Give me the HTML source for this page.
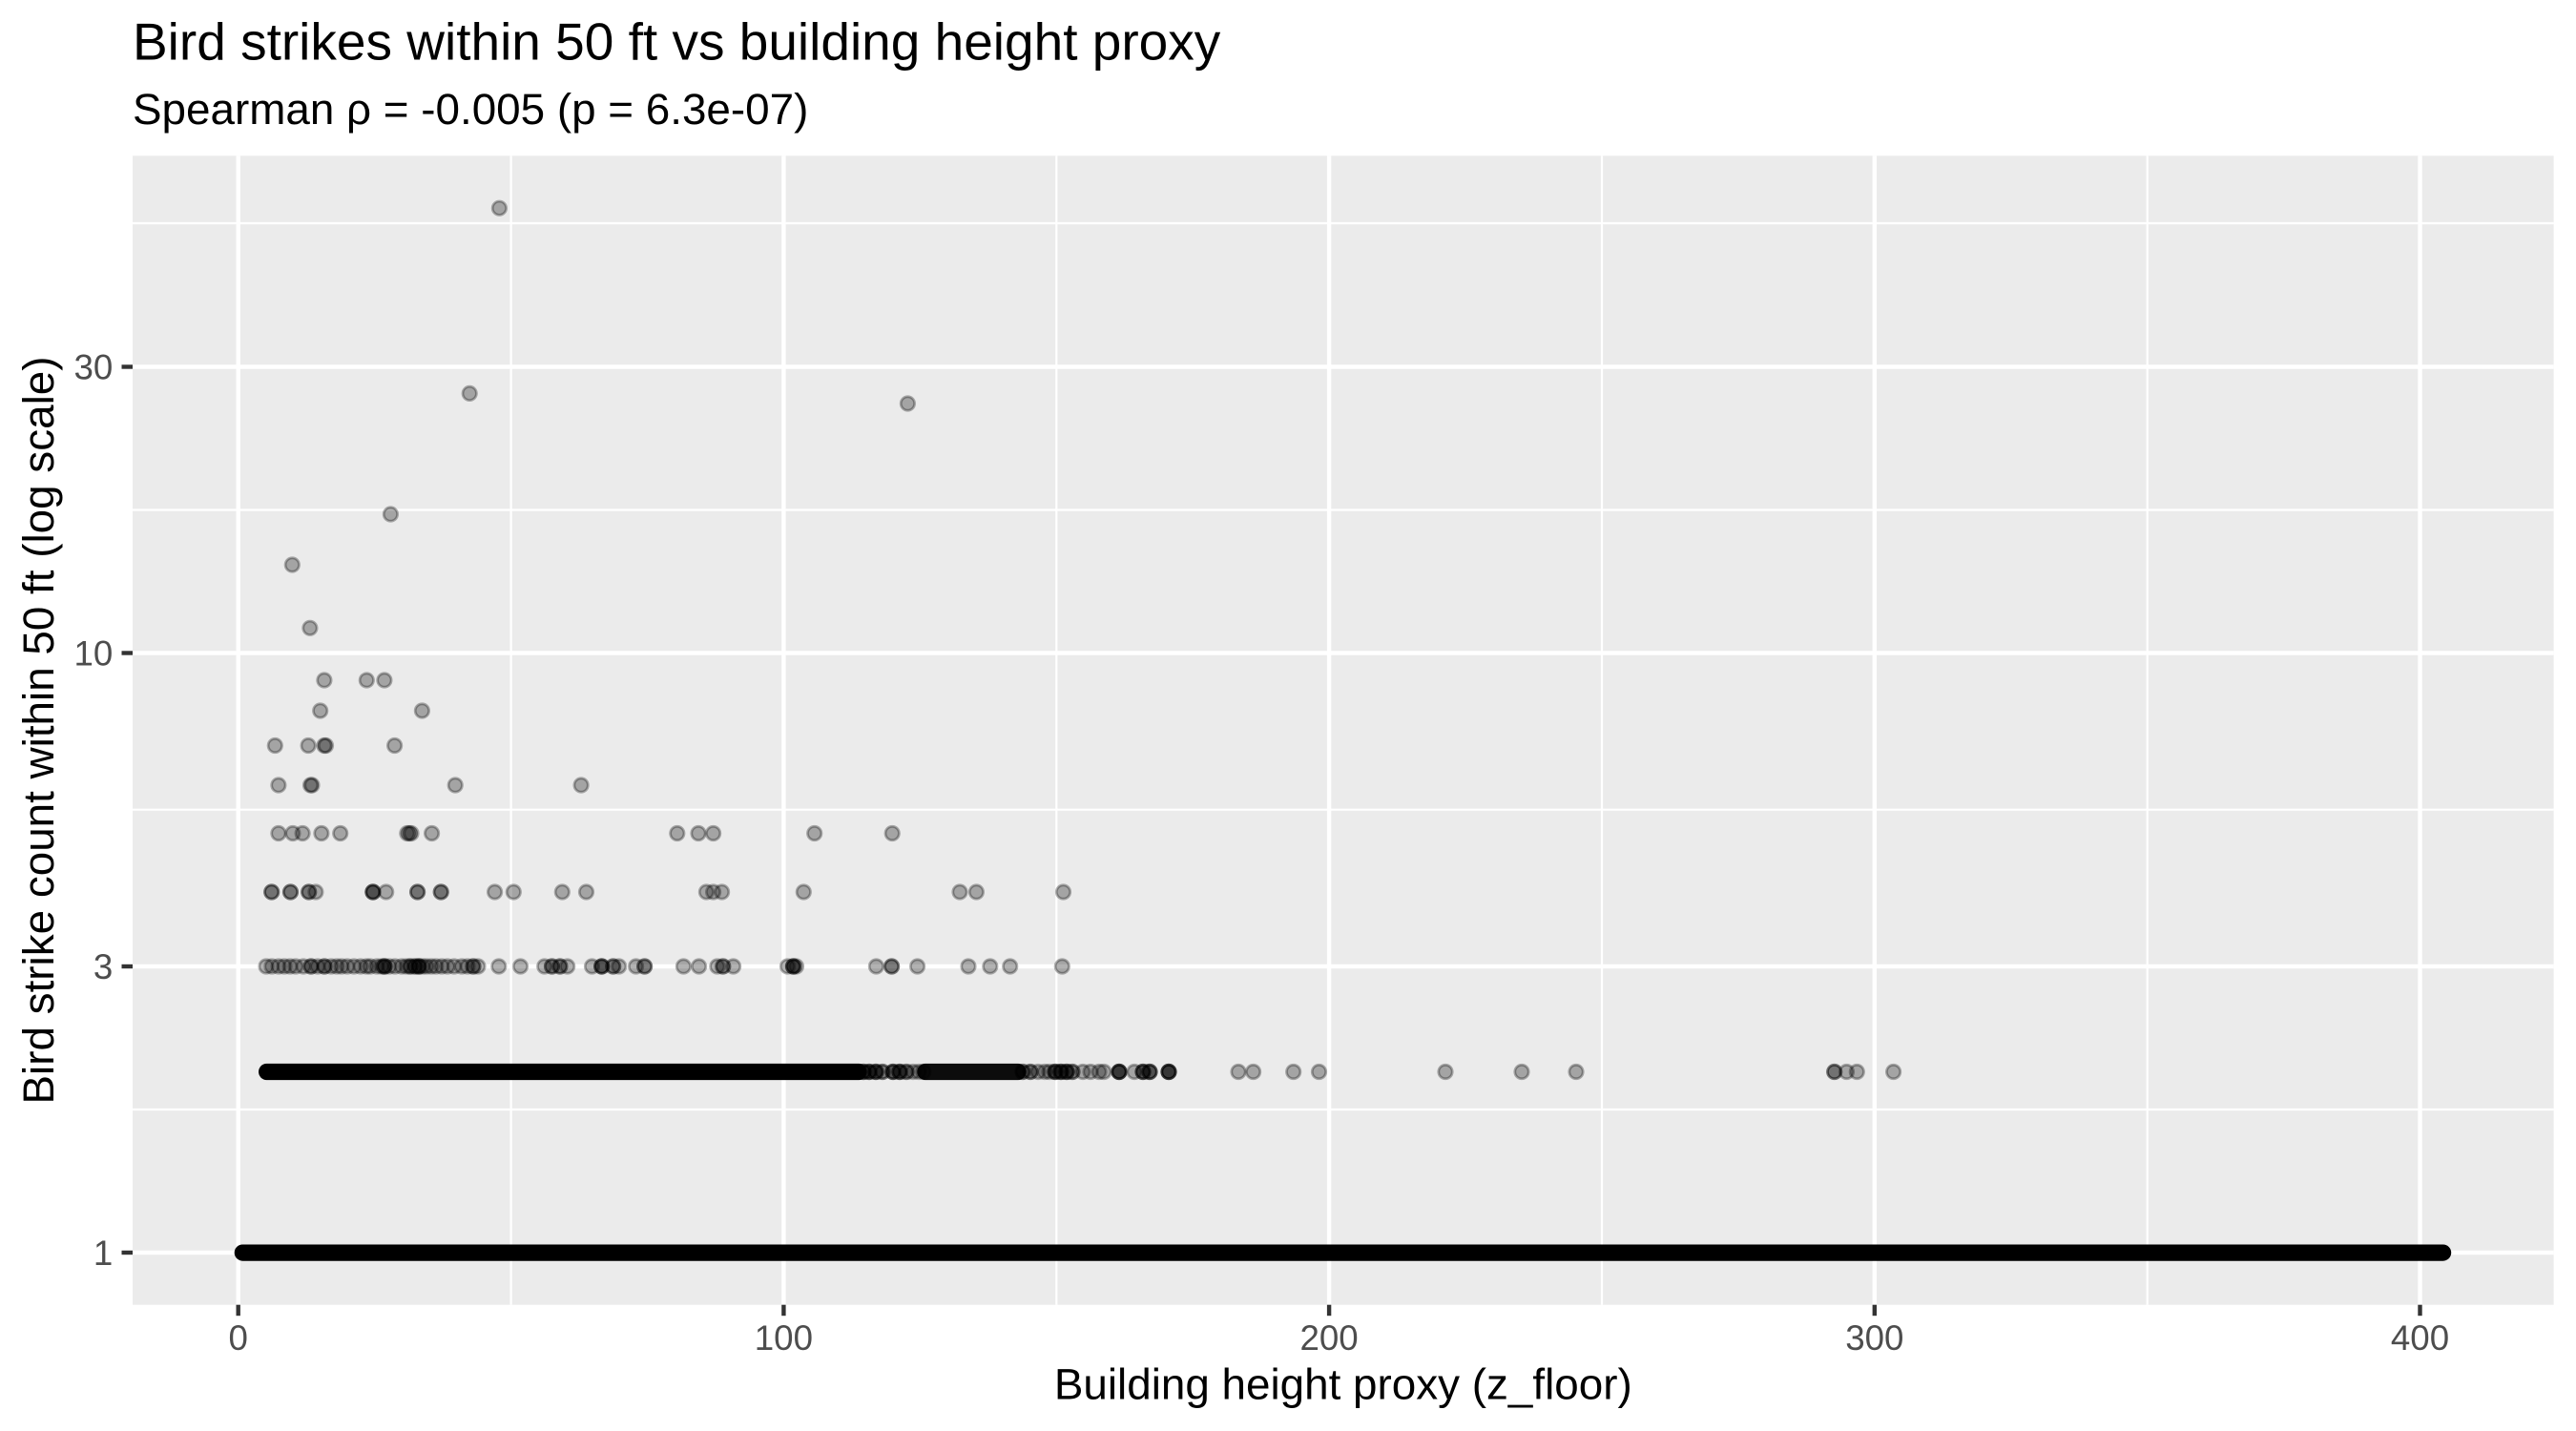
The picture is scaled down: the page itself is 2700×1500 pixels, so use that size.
<!DOCTYPE html>
<html><head><meta charset="utf-8"><style>
html,body{margin:0;padding:0;background:#fff;}
svg{display:block;}
text{font-family:"Liberation Sans",Arial,Helvetica,sans-serif;}
</style></head><body>
<svg width="2700" height="1500" viewBox="0 0 2700 1500" xmlns="http://www.w3.org/2000/svg">
<rect width="2700" height="1500" fill="#fff"/>
<rect x="139" y="163.3" width="2537.6" height="1204.4" fill="#EBEBEB"/>
<g stroke="#fff" stroke-width="2.2">
<line x1="139" x2="2676.6" y1="1163" y2="1163"/>
<line x1="139" x2="2676.6" y1="848.7" y2="848.7"/>
<line x1="139" x2="2676.6" y1="534.5" y2="534.5"/>
<line x1="139" x2="2676.6" y1="234" y2="234"/>
<line y1="163.3" y2="1367.7" x1="535.6" x2="535.6"/>
<line y1="163.3" y2="1367.7" x1="1107.3" x2="1107.3"/>
<line y1="163.3" y2="1367.7" x1="1679" x2="1679"/>
<line y1="163.3" y2="1367.7" x1="2250.7" x2="2250.7"/>
</g>
<g stroke="#fff" stroke-width="4.4">
<line x1="139" x2="2676.6" y1="1313" y2="1313"/>
<line x1="139" x2="2676.6" y1="1013" y2="1013"/>
<line x1="139" x2="2676.6" y1="684.5" y2="684.5"/>
<line x1="139" x2="2676.6" y1="384.5" y2="384.5"/>
<line y1="163.3" y2="1367.7" x1="249.7" x2="249.7"/>
<line y1="163.3" y2="1367.7" x1="821.4" x2="821.4"/>
<line y1="163.3" y2="1367.7" x1="1393.1" x2="1393.1"/>
<line y1="163.3" y2="1367.7" x1="1964.8" x2="1964.8"/>
<line y1="163.3" y2="1367.7" x1="2536.5" x2="2536.5"/>
</g>

<!-- dense rows -->
<rect x="245.7" y="1304.5" width="2323.5" height="17.2" rx="8.6" fill="#000"/>
<rect x="271" y="1114.9" width="637.6" height="17.2" rx="8.6" fill="#000"/>
<rect x="961.4" y="1114.9" width="114.2" height="17.2" rx="8.6" fill="#000" fill-opacity="0.95"/>

<g fill="#000" fill-opacity="0.3" stroke="#000" stroke-opacity="0.3" stroke-width="2.8">
<!-- row 2 extras -->
<circle cx="905" cy="1123.5" r="7.2"/><circle cx="905" cy="1123.5" r="7.2"/><circle cx="905" cy="1123.5" r="7.2"/>
<circle cx="911" cy="1123.5" r="7.2"/><circle cx="911" cy="1123.5" r="7.2"/><circle cx="911" cy="1123.5" r="7.2"/>
<circle cx="918" cy="1123.5" r="7.2"/><circle cx="918" cy="1123.5" r="7.2"/><circle cx="918" cy="1123.5" r="7.2"/>
<circle cx="925" cy="1123.5" r="7.2"/><circle cx="925" cy="1123.5" r="7.2"/>
<circle cx="936" cy="1123.5" r="7.2"/><circle cx="936" cy="1123.5" r="7.2"/><circle cx="936" cy="1123.5" r="7.2"/>
<circle cx="943" cy="1123.5" r="7.2"/><circle cx="943" cy="1123.5" r="7.2"/><circle cx="943" cy="1123.5" r="7.2"/>
<circle cx="950" cy="1123.5" r="7.2"/><circle cx="950" cy="1123.5" r="7.2"/>
<circle cx="957" cy="1123.5" r="7.2"/><circle cx="963" cy="1123.5" r="7.2"/><circle cx="968" cy="1123.5" r="7.2"/>
<circle cx="1072" cy="1123.5" r="7.2"/><circle cx="1072" cy="1123.5" r="7.2"/>
<circle cx="1080" cy="1123.5" r="7.2"/><circle cx="1080" cy="1123.5" r="7.2"/>
<circle cx="1088" cy="1123.5" r="7.2"/><circle cx="1095" cy="1123.5" r="7.2"/><circle cx="1100" cy="1123.5" r="7.2"/>
<circle cx="1106" cy="1123.5" r="7.2"/><circle cx="1106" cy="1123.5" r="7.2"/><circle cx="1106" cy="1123.5" r="7.2"/>
<circle cx="1112" cy="1123.5" r="7.2"/><circle cx="1112" cy="1123.5" r="7.2"/><circle cx="1112" cy="1123.5" r="7.2"/>
<circle cx="1118" cy="1123.5" r="7.2"/><circle cx="1118" cy="1123.5" r="7.2"/><circle cx="1118" cy="1123.5" r="7.2"/>
<circle cx="1124" cy="1123.5" r="7.2"/><circle cx="1124" cy="1123.5" r="7.2"/>
<circle cx="1135" cy="1123.5" r="7.2"/><circle cx="1143" cy="1123.5" r="7.2"/>
<circle cx="1152" cy="1123.5" r="7.2"/><circle cx="1157" cy="1123.5" r="7.2"/>
<circle cx="1173" cy="1123.5" r="7.2"/><circle cx="1173" cy="1123.5" r="7.2"/><circle cx="1173" cy="1123.5" r="7.2"/><circle cx="1173" cy="1123.5" r="7.2"/>
<circle cx="1189" cy="1123.5" r="7.2"/>
<circle cx="1198" cy="1123.5" r="7.2"/><circle cx="1198" cy="1123.5" r="7.2"/><circle cx="1198" cy="1123.5" r="7.2"/>
<circle cx="1205" cy="1123.5" r="7.2"/><circle cx="1205" cy="1123.5" r="7.2"/><circle cx="1205" cy="1123.5" r="7.2"/>
<circle cx="1225" cy="1123.5" r="7.2"/><circle cx="1225" cy="1123.5" r="7.2"/><circle cx="1225" cy="1123.5" r="7.2"/><circle cx="1225" cy="1123.5" r="7.2"/>
<circle cx="1298" cy="1123.5" r="7.2"/><circle cx="1313.6" cy="1123.5" r="7.2"/>
<circle cx="1355.7" cy="1123.5" r="7.2"/><circle cx="1382.5" cy="1123.5" r="7.2"/>
<circle cx="1515" cy="1123.5" r="7.2"/><circle cx="1595" cy="1123.5" r="7.2"/><circle cx="1652" cy="1123.5" r="7.2"/>
<circle cx="1922.7" cy="1123.5" r="7.2"/><circle cx="1922.7" cy="1123.5" r="7.2"/>
<circle cx="1935.5" cy="1123.5" r="7.2"/><circle cx="1946.3" cy="1123.5" r="7.2"/><circle cx="1984.6" cy="1123.5" r="7.2"/>

<!-- row 3 -->
<circle cx="279" cy="1013" r="7.2"/><circle cx="285" cy="1013" r="7.2"/><circle cx="292" cy="1013" r="7.2"/>
<circle cx="298" cy="1013" r="7.2"/><circle cx="304" cy="1013" r="7.2"/><circle cx="310" cy="1013" r="7.2"/>
<circle cx="318" cy="1013" r="7.2"/><circle cx="326" cy="1013" r="7.2"/><circle cx="326" cy="1013" r="7.2"/>
<circle cx="333" cy="1013" r="7.2"/><circle cx="340" cy="1013" r="7.2"/><circle cx="340" cy="1013" r="7.2"/>
<circle cx="347" cy="1013" r="7.2"/><circle cx="353" cy="1013" r="7.2"/><circle cx="358" cy="1013" r="7.2"/>
<circle cx="364" cy="1013" r="7.2"/><circle cx="371" cy="1013" r="7.2"/><circle cx="378" cy="1013" r="7.2"/>
<circle cx="384" cy="1013" r="7.2"/><circle cx="388" cy="1013" r="7.2"/><circle cx="395" cy="1013" r="7.2"/>
<circle cx="400" cy="1013" r="7.2"/><circle cx="403" cy="1013" r="7.2"/><circle cx="403" cy="1013" r="7.2"/><circle cx="403" cy="1013" r="7.2"/>
<circle cx="408" cy="1013" r="7.2"/><circle cx="414" cy="1013" r="7.2"/><circle cx="421" cy="1013" r="7.2"/>
<circle cx="426" cy="1013" r="7.2"/><circle cx="430" cy="1013" r="7.2"/><circle cx="430" cy="1013" r="7.2"/>
<circle cx="435" cy="1013" r="7.2"/><circle cx="435" cy="1013" r="7.2"/>
<circle cx="439" cy="1013" r="7.2"/><circle cx="439" cy="1013" r="7.2"/><circle cx="439" cy="1013" r="7.2"/>
<circle cx="443" cy="1013" r="7.2"/><circle cx="447" cy="1013" r="7.2"/><circle cx="452" cy="1013" r="7.2"/>
<circle cx="457" cy="1013" r="7.2"/><circle cx="463" cy="1013" r="7.2"/><circle cx="469" cy="1013" r="7.2"/>
<circle cx="476" cy="1013" r="7.2"/><circle cx="484" cy="1013" r="7.2"/><circle cx="490" cy="1013" r="7.2"/>
<circle cx="496" cy="1013" r="7.2"/><circle cx="496" cy="1013" r="7.2"/><circle cx="501" cy="1013" r="7.2"/>
<circle cx="522.8" cy="1013" r="7.2"/><circle cx="545.5" cy="1013" r="7.2"/>
<circle cx="570.7" cy="1013" r="7.2"/><circle cx="578.5" cy="1013" r="7.2"/><circle cx="578.5" cy="1013" r="7.2"/>
<circle cx="586.9" cy="1013" r="7.2"/><circle cx="586.9" cy="1013" r="7.2"/><circle cx="594.7" cy="1013" r="7.2"/>
<circle cx="620.5" cy="1013" r="7.2"/><circle cx="630.7" cy="1013" r="7.2"/><circle cx="630.7" cy="1013" r="7.2"/><circle cx="630.7" cy="1013" r="7.2"/>
<circle cx="642.7" cy="1013" r="7.2"/><circle cx="642.7" cy="1013" r="7.2"/><circle cx="648.7" cy="1013" r="7.2"/>
<circle cx="666.6" cy="1013" r="7.2"/><circle cx="675.6" cy="1013" r="7.2"/><circle cx="675.6" cy="1013" r="7.2"/>
<circle cx="716.4" cy="1013" r="7.2"/><circle cx="732.6" cy="1013" r="7.2"/>
<circle cx="751.8" cy="1013" r="7.2"/><circle cx="757.8" cy="1013" r="7.2"/><circle cx="757.8" cy="1013" r="7.2"/><circle cx="768.6" cy="1013" r="7.2"/>
<circle cx="825.5" cy="1013" r="7.2"/><circle cx="831.5" cy="1013" r="7.2"/><circle cx="831.5" cy="1013" r="7.2"/><circle cx="831.5" cy="1013" r="7.2"/><circle cx="834.5" cy="1013" r="7.2"/>
<circle cx="918.4" cy="1013" r="7.2"/><circle cx="934.6" cy="1013" r="7.2"/><circle cx="934.6" cy="1013" r="7.2"/>
<circle cx="961.6" cy="1013" r="7.2"/><circle cx="1015" cy="1013" r="7.2"/><circle cx="1037.8" cy="1013" r="7.2"/>
<circle cx="1058.7" cy="1013" r="7.2"/><circle cx="1113.3" cy="1013" r="7.2"/>

<!-- row 4 -->
<circle cx="284.7" cy="935" r="7.2"/><circle cx="284.7" cy="935" r="7.2"/>
<circle cx="304.5" cy="935" r="7.2"/><circle cx="304.5" cy="935" r="7.2"/>
<circle cx="323.7" cy="935" r="7.2"/><circle cx="323.7" cy="935" r="7.2"/><circle cx="330.9" cy="935" r="7.2"/>
<circle cx="390.9" cy="935" r="7.2"/><circle cx="390.9" cy="935" r="7.2"/><circle cx="390.9" cy="935" r="7.2"/>
<circle cx="404.7" cy="935" r="7.2"/>
<circle cx="437.6" cy="935" r="7.2"/><circle cx="437.6" cy="935" r="7.2"/>
<circle cx="462.2" cy="935" r="7.2"/><circle cx="462.2" cy="935" r="7.2"/>
<circle cx="518.6" cy="935" r="7.2"/><circle cx="538.3" cy="935" r="7.2"/>
<circle cx="589.3" cy="935" r="7.2"/><circle cx="614.5" cy="935" r="7.2"/>
<circle cx="740.4" cy="935" r="7.2"/><circle cx="747.6" cy="935" r="7.2"/><circle cx="756.6" cy="935" r="7.2"/>
<circle cx="842.3" cy="935" r="7.2"/><circle cx="1006" cy="935" r="7.2"/><circle cx="1023.4" cy="935" r="7.2"/>
<circle cx="1114.5" cy="935" r="7.2"/>

<!-- row 5 -->
<circle cx="291.9" cy="873.5" r="7.2"/><circle cx="306.9" cy="873.5" r="7.2"/><circle cx="317.1" cy="873.5" r="7.2"/>
<circle cx="336.9" cy="873.5" r="7.2"/><circle cx="356.7" cy="873.5" r="7.2"/>
<circle cx="426.8" cy="873.5" r="7.2"/><circle cx="429" cy="873.5" r="7.2"/><circle cx="431" cy="873.5" r="7.2"/>
<circle cx="452.6" cy="873.5" r="7.2"/><circle cx="709.8" cy="873.5" r="7.2"/><circle cx="732" cy="873.5" r="7.2"/>
<circle cx="747.6" cy="873.5" r="7.2"/><circle cx="853.7" cy="873.5" r="7.2"/><circle cx="935.2" cy="873.5" r="7.2"/>

<!-- row 6 -->
<circle cx="291.9" cy="823" r="7.2"/><circle cx="325.5" cy="823" r="7.2"/><circle cx="327" cy="823" r="7.2"/>
<circle cx="477.2" cy="823" r="7.2"/><circle cx="609.1" cy="823" r="7.2"/>
<!-- row 7 -->
<circle cx="288.3" cy="781.5" r="7.2"/><circle cx="323.1" cy="781.5" r="7.2"/>
<circle cx="339.9" cy="781.5" r="7.2"/><circle cx="341.5" cy="781.5" r="7.2"/><circle cx="413.6" cy="781.5" r="7.2"/>
<!-- row 8 -->
<circle cx="335.7" cy="745" r="7.2"/><circle cx="442.4" cy="745" r="7.2"/>
<!-- row 9 -->
<circle cx="339.9" cy="713" r="7.2"/><circle cx="384.3" cy="713" r="7.2"/><circle cx="402.9" cy="713" r="7.2"/>
<!-- high values -->
<circle cx="324.9" cy="658.3" r="7.2"/>
<circle cx="306.3" cy="592" r="7.2"/>
<circle cx="409.4" cy="539" r="7.2"/>
<circle cx="492.2" cy="412.4" r="7.2"/>
<circle cx="951.4" cy="423" r="7.2"/>
<circle cx="523.4" cy="218.2" r="7.2"/>
</g>

<!-- ticks -->
<g stroke="#333" stroke-width="4.4">
<line x1="127.5" x2="139" y1="1313" y2="1313"/>
<line x1="127.5" x2="139" y1="1013" y2="1013"/>
<line x1="127.5" x2="139" y1="684.5" y2="684.5"/>
<line x1="127.5" x2="139" y1="384.5" y2="384.5"/>
<line y1="1367.7" y2="1379.2" x1="249.7" x2="249.7"/>
<line y1="1367.7" y2="1379.2" x1="821.4" x2="821.4"/>
<line y1="1367.7" y2="1379.2" x1="1393.1" x2="1393.1"/>
<line y1="1367.7" y2="1379.2" x1="1964.8" x2="1964.8"/>
<line y1="1367.7" y2="1379.2" x1="2536.5" x2="2536.5"/>
</g>
<g fill="#4D4D4D" font-size="36.7" text-anchor="end">
<text x="118.3" y="1326.1">1</text>
<text x="118.3" y="1026.1">3</text>
<text x="118.3" y="697.6">10</text>
<text x="118.3" y="397.6">30</text>
</g>
<g fill="#4D4D4D" font-size="36.7" text-anchor="middle">
<text x="249.7" y="1415">0</text>
<text x="821.4" y="1415">100</text>
<text x="1393.1" y="1415">200</text>
<text x="1964.8" y="1415">300</text>
<text x="2536.5" y="1415">400</text>
</g>
<text x="1407.8" y="1466.5" font-size="45.8" text-anchor="middle" fill="#000">Building height proxy (z_floor)</text>
<text transform="translate(56,765.5) rotate(-90)" font-size="45.8" text-anchor="middle" fill="#000">Bird strike count within 50 ft (log scale)</text>
<text x="139" y="62.5" font-size="55" fill="#000">Bird strikes within 50 ft vs building height proxy</text>
<text x="139" y="130" font-size="45.8" fill="#000">Spearman ρ = -0.005 (p = 6.3e-07)</text>
</svg>
</body></html>
